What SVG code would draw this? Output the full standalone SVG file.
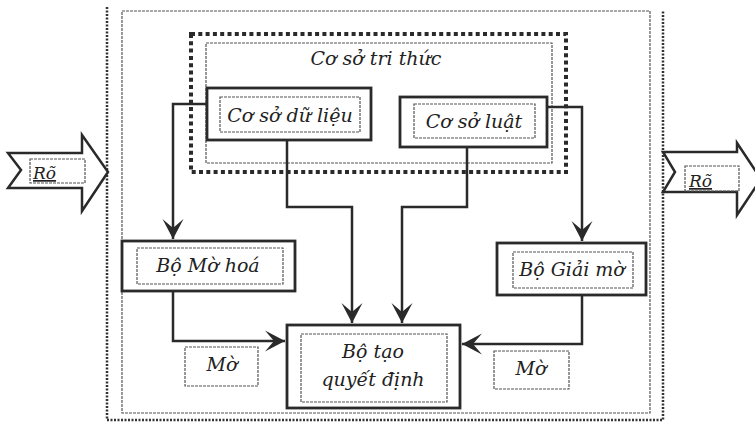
<svg xmlns="http://www.w3.org/2000/svg" width="755" height="425" viewBox="0 0 755 425">
<defs>
<style>
.lbl{font-family:"DejaVu Serif","Liberation Serif",serif;font-style:italic;font-size:19px;fill:#222;text-anchor:middle}
.rlbl{font-family:"DejaVu Serif","Liberation Serif",serif;font-style:italic;font-size:17px;fill:#222;text-decoration:underline}
.box{fill:#fff;stroke:#2a2a2a;stroke-width:2.8}
.inner{fill:none;stroke:#555;stroke-width:1.2;stroke-dasharray:3 1}
.frame{fill:none;stroke:#555;stroke-width:1.2;stroke-dasharray:3 1}
.outer{fill:none;stroke:#333;stroke-width:2.5;stroke-dasharray:2 1.5}
.kb{fill:none;stroke:#2a2a2a;stroke-width:4;stroke-dasharray:4 3.3}
.conn{fill:none;stroke:#2a2a2a;stroke-width:2.5}
.big{fill:#fff;stroke:#2a2a2a;stroke-width:2.5;stroke-linejoin:miter}
</style>
<marker id="ah" markerUnits="userSpaceOnUse" viewBox="-21 -11 22 22" refX="0" refY="0" markerWidth="22" markerHeight="22" orient="auto">
<path d="M0,0 L-20,-10.5 L-11,0 L-20,10.5 Z" fill="#2a2a2a"/>
</marker>
</defs>
<rect width="755" height="425" fill="#fff"/>

<g id="outer-frame">
<path class="outer" d="M107,7 V420 H663 V10"/>
<rect class="frame" x="122" y="11" width="528" height="402"/>
</g>

<g id="input-crisp">
<polygon class="big" points="8,153 82,153 82,135 108,172 82,211 82,188 8,188 21,170"/>
<rect class="inner" x="30" y="159" width="55" height="24"/>
<text class="rlbl" x="33" y="179">Rõ</text>
</g>

<g id="output-crisp">
<polygon class="big" points="663,152 737,152 737,143 761,179 737,215 737,192 663,192 675,172"/>
<rect class="inner" x="685" y="166" width="54" height="25"/>
<text class="rlbl" x="689" y="187">Rõ</text>
</g>

<g id="knowledge-base">
<rect class="kb" x="191" y="34" width="375" height="138"/>
<rect class="frame" x="206" y="43" width="346" height="120"/>
<text class="lbl" x="376" y="65">Cơ sở tri thức</text>
</g>

<g id="connectors">
<path class="conn" d="M207,104 H173 V239" marker-end="url(#ah)"/>
<path class="conn" d="M287,140 V207 H352 V323" marker-end="url(#ah)"/>
<path class="conn" d="M467,147 V207 H402 V323" marker-end="url(#ah)"/>
<path class="conn" d="M547,107 H582 V241" marker-end="url(#ah)"/>
<path class="conn" d="M173,291 V341 H285" marker-end="url(#ah)"/>
<path class="conn" d="M582,295 V344 H462" marker-end="url(#ah)"/>
</g>

<g id="database">
<rect class="box" x="207" y="88" width="164" height="52"/>
<rect class="inner" x="220" y="97" width="140" height="35"/>
<text class="lbl" x="290" y="122">Cơ sở dữ liệu</text>
</g>

<g id="rule-base">
<rect class="box" x="400" y="97" width="147" height="50"/>
<rect class="inner" x="414" y="104" width="121" height="34"/>
<text class="lbl" x="474" y="128">Cơ sở luật</text>
</g>

<g id="fuzzifier">
<rect class="box" x="122" y="241" width="173" height="50"/>
<rect class="inner" x="137" y="248" width="146" height="36"/>
<text class="lbl" x="208" y="272">Bộ Mờ hoá</text>
</g>

<g id="defuzzifier">
<rect class="box" x="497" y="243" width="149" height="52"/>
<rect class="inner" x="513" y="252" width="120" height="36"/>
<text class="lbl" x="572" y="276">Bộ Giải mờ</text>
</g>

<g id="decision">
<rect class="box" x="287" y="325" width="173" height="83"/>
<rect class="inner" x="301" y="334" width="146" height="68"/>
<text class="lbl" x="373" y="358">Bộ tạo</text>
<text class="lbl" x="373" y="386">quyết định</text>
</g>

<g id="fuzzy-left">
<rect class="inner" x="185" y="347" width="73" height="39"/>
<text class="lbl" x="222" y="371">Mờ</text>
</g>

<g id="fuzzy-right">
<rect class="inner" x="494" y="351" width="75" height="38"/>
<text class="lbl" x="531" y="375">Mờ</text>
</g>
</svg>
